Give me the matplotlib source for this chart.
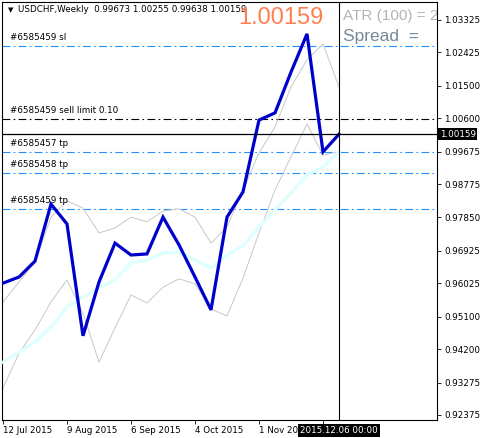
import numpy as np
import pandas as pd
import matplotlib
matplotlib.use("Agg")
import matplotlib.pyplot as plt

# --- data ---
weeks = pd.date_range("2015-07-12", periods=22, freq="W-SUN")
close = [0.9603, 0.9620, 0.9664, 0.9822, 0.9767, 0.9457, 0.9606, 0.9714,
         0.9681, 0.9684, 0.9786, 0.9709, 0.9620, 0.9529, 0.9786, 0.9856,
         1.0055, 1.0075, 1.0188, 1.0294, 0.9967, 1.00159]
upper = [0.9551, 0.9606, 0.9662, 0.9786, 0.9831, 0.9811, 0.9742, 0.9756,
         0.9786, 0.9773, 0.9803, 0.9809, 0.9786, 0.9714, 0.9759, 0.9861,
         0.9964, 1.0036, 1.0147, 1.0222, 1.0266, 1.0147]
lower = [0.9312, 0.9409, 0.9473, 0.9551, 0.9612, 0.9520, 0.9384, 0.9479,
         0.9570, 0.9548, 0.9592, 0.9615, 0.9601, 0.9531, 0.9512, 0.9617,
         0.9742, 0.9861, 0.9953, 1.0044, 0.9958, 0.9967]
ma = [0.9384, 0.9412, 0.9440, 0.9481, 0.9537, 0.9565, 0.9590, 0.9612,
      0.9659, 0.9667, 0.9687, 0.9689, 0.9667, 0.9645, 0.9681, 0.9706,
      0.9759, 0.9806, 0.9853, 0.9903, 0.9925, 0.9967]

bid = 1.00159
ohlc_text = "USDCHF,Weekly  0.99673 1.00255 0.99638 1.00159"
order_lines = [  # label, price, colour
    ("#6585459 sl", 1.02600, "#1E90FF"),
    ("#6585459 sell limit 0.10", 1.00585, "black"),
    ("#6585457 tp", 0.99660, "#1E90FF"),
    ("#6585458 tp", 0.99092, "#1E90FF"),
    ("#6585459 tp", 0.98085, "#1E90FF"),
]
price_ticks = [1.03325, 1.02425, 1.01500, 1.00600, 0.99675, 0.98775, 0.97850,
               0.96925, 0.96025, 0.95100, 0.94200, 0.93275, 0.92375]
date_tick_idx = [0, 4, 8, 12, 16, 20]

x = np.arange(len(weeks))
W, H = 480, 438
fig = plt.figure(figsize=(W / 100, H / 100), dpi=100)
ax = fig.add_axes([2 / W, 18 / H, 435 / W, 418 / H])
ax.set_xlim(-1 / 16, 434 / 16)
ax.set_ylim(0.92236, 1.03824)

ax.plot(x, upper, color="#C8C8C8", lw=0.7, zorder=2)
ax.plot(x, lower, color="#C8C8C8", lw=0.7, zorder=2)
ax.plot(x, ma, color="#DDFFFF", lw=2.3, zorder=3)
ax.plot(x, close, color="#0000CD", lw=2.3, zorder=4, solid_joinstyle="miter")

for label, price, col in order_lines:
    ax.axhline(price, color=col, lw=0.8, dashes=(7, 3, 1.5, 3), zorder=1)
    ax.text(0.45, price + 0.0011, label, fontsize=6.3, color="black",
            ha="left", va="bottom", zorder=5)

ax.axhline(bid, color="black", lw=0.9, zorder=5)
ax.axvline(x[-1], color="black", lw=0.8, zorder=5)

# right price scale
ax.yaxis.tick_right()
ax.set_yticks(price_ticks)
ax.set_yticklabels([f"{p:.5f}" for p in price_ticks])
ax.tick_params(axis="y", direction="out", length=3, width=0.6, pad=2,
               labelsize=6.3, colors="black")
ax.text(1.006, bid, f"{bid:.5f}", transform=ax.get_yaxis_transform(),
        fontsize=6.3, color="white", ha="left", va="center",
        bbox=dict(boxstyle="square,pad=0.15", fc="black", ec="none"))

# bottom time scale (last label sits under the crosshair date box)
ax.set_xticks(date_tick_idx)
ax.set_xticklabels([f"{weeks[i].day} {weeks[i]:%b %Y}" if i < 20 else ""
                    for i in date_tick_idx], ha="left")
ax.tick_params(axis="x", direction="out", length=3, width=0.6, pad=1,
               labelsize=6.3, colors="black")
ax.text(x[-1], -0.014, f"{weeks[-1]:%Y.%m.%d} 00:00",
        transform=ax.get_xaxis_transform(), fontsize=6.3, color="white",
        ha="center", va="top", zorder=10,
        bbox=dict(boxstyle="square,pad=0.2", fc="black", ec="none"))

# header and info texts
ax.text(6 / 435, 1 - 8 / 418, "\u25bc", transform=ax.transAxes, fontsize=5,
        ha="left", va="center")
ax.text(16 / 435, 1 - 8 / 418, ohlc_text, transform=ax.transAxes,
        fontsize=6.3, ha="left", va="center")
ax.text(236 / 435, 1 - 16 / 418, f"{bid:.5f}", transform=ax.transAxes,
        fontsize=17, color="#FF7F50", family="Liberation Sans",
        ha="left", va="center")
ax.text(341 / 435, 1 - 14 / 418, "ATR (100) = 2", transform=ax.transAxes,
        fontsize=11, color="#B4B4B4", family="Liberation Sans",
        ha="left", va="center", clip_on=True)
ax.text(341 / 435, 1 - 35 / 418, "Spread  =  ", transform=ax.transAxes,
        fontsize=12.5, color="#778899", family="Liberation Sans",
        ha="left", va="center", clip_on=True)

for s in ax.spines.values():
    s.set_color("black")
    s.set_linewidth(0.8)

fig.savefig("out.png", dpi=100)
